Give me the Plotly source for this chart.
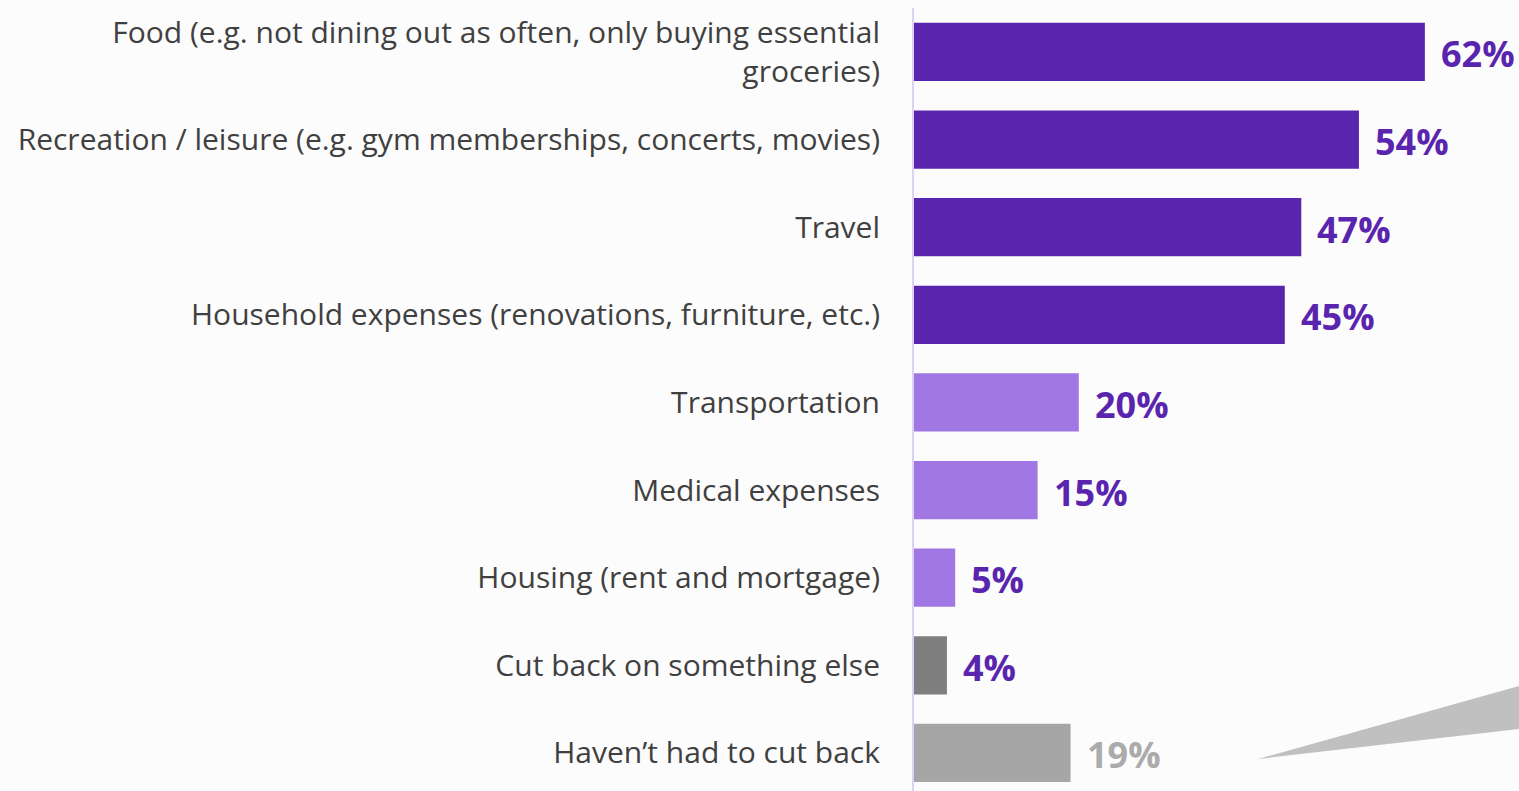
import plotly.graph_objects as go

categories = [
    "Food (e.g. not dining out as often, only buying essential<br>groceries)",
    "Recreation / leisure (e.g. gym memberships, concerts, movies)",
    "Travel",
    "Household expenses (renovations, furniture, etc.)",
    "Transportation",
    "Medical expenses",
    "Housing (rent and mortgage)",
    "Cut back on something else",
    "Haven\u2019t had to cut back",
]
values = [62, 54, 47, 45, 20, 15, 5, 4, 19]
bar_colors = ["#5A25AE", "#5A25AE", "#5A25AE", "#5A25AE",
              "#A077E3", "#A077E3", "#A077E3", "#7F7F7F", "#A6A6A6"]
label_colors = ["#5A25AE"] * 8 + ["#ABABAB"]

W, H = 1519, 791
ML, MT, MR, MB = 914, 8, 0, 0
pw, ph = W - ML - MR, H - MT - MB

fig = go.Figure()
fig.add_trace(go.Bar(
    x=values, y=categories, orientation="h",
    marker=dict(color=bar_colors, line=dict(width=0)),
    hoverinfo="skip",
))

for c, v, col in zip(categories, values, label_colors):
    fig.add_annotation(x=v, y=c, xref="x", yref="y", text=f"<b>{v}%</b>",
                       showarrow=False, xanchor="left", yanchor="middle",
                       xshift=14, yshift=-2,
                       font=dict(family="Open Sans", size=36, color=col))

# decorative callout pointer (bottom right), page-pixel coordinates -> paper
def px(xp):
    return (xp - ML) / pw
def py(yp):
    return (H - MB - yp) / ph

fig.add_shape(type="path", xref="paper", yref="paper",
              path=f"M {px(1258)} {py(759)} L {px(1519)} {py(686)} L {px(1519)} {py(729)} Z",
              fillcolor="#C0C0C0", line=dict(width=0), layer="below")

fig.update_layout(
    width=W, height=H,
    margin=dict(l=ML, r=MR, t=MT, b=MB, autoexpand=False),
    paper_bgcolor="#FCFCFC", plot_bgcolor="#FCFCFC",
    bargap=0.335, showlegend=False,
    font=dict(family="Open Sans", color="#404040"),
)
fig.update_xaxes(range=[0, pw / 8.24], visible=False, showgrid=False, zeroline=False)
fig.update_yaxes(
    type="category", categoryorder="array", categoryarray=categories,
    range=[8.434, -0.502], showgrid=False, zeroline=False,
    showline=True, linecolor="#DAD3F6", linewidth=2,
    ticks="", ticklabelstandoff=26,
    tickfont=dict(family="Open Sans", size=30, color="#404040"),
)

fig.write_html(
    "out.html",
    config={"displayModeBar": False},
    post_script="document.body.style.margin='0';document.body.style.overflow='hidden';"
                "document.body.style.background='#FCFCFC';",
)
